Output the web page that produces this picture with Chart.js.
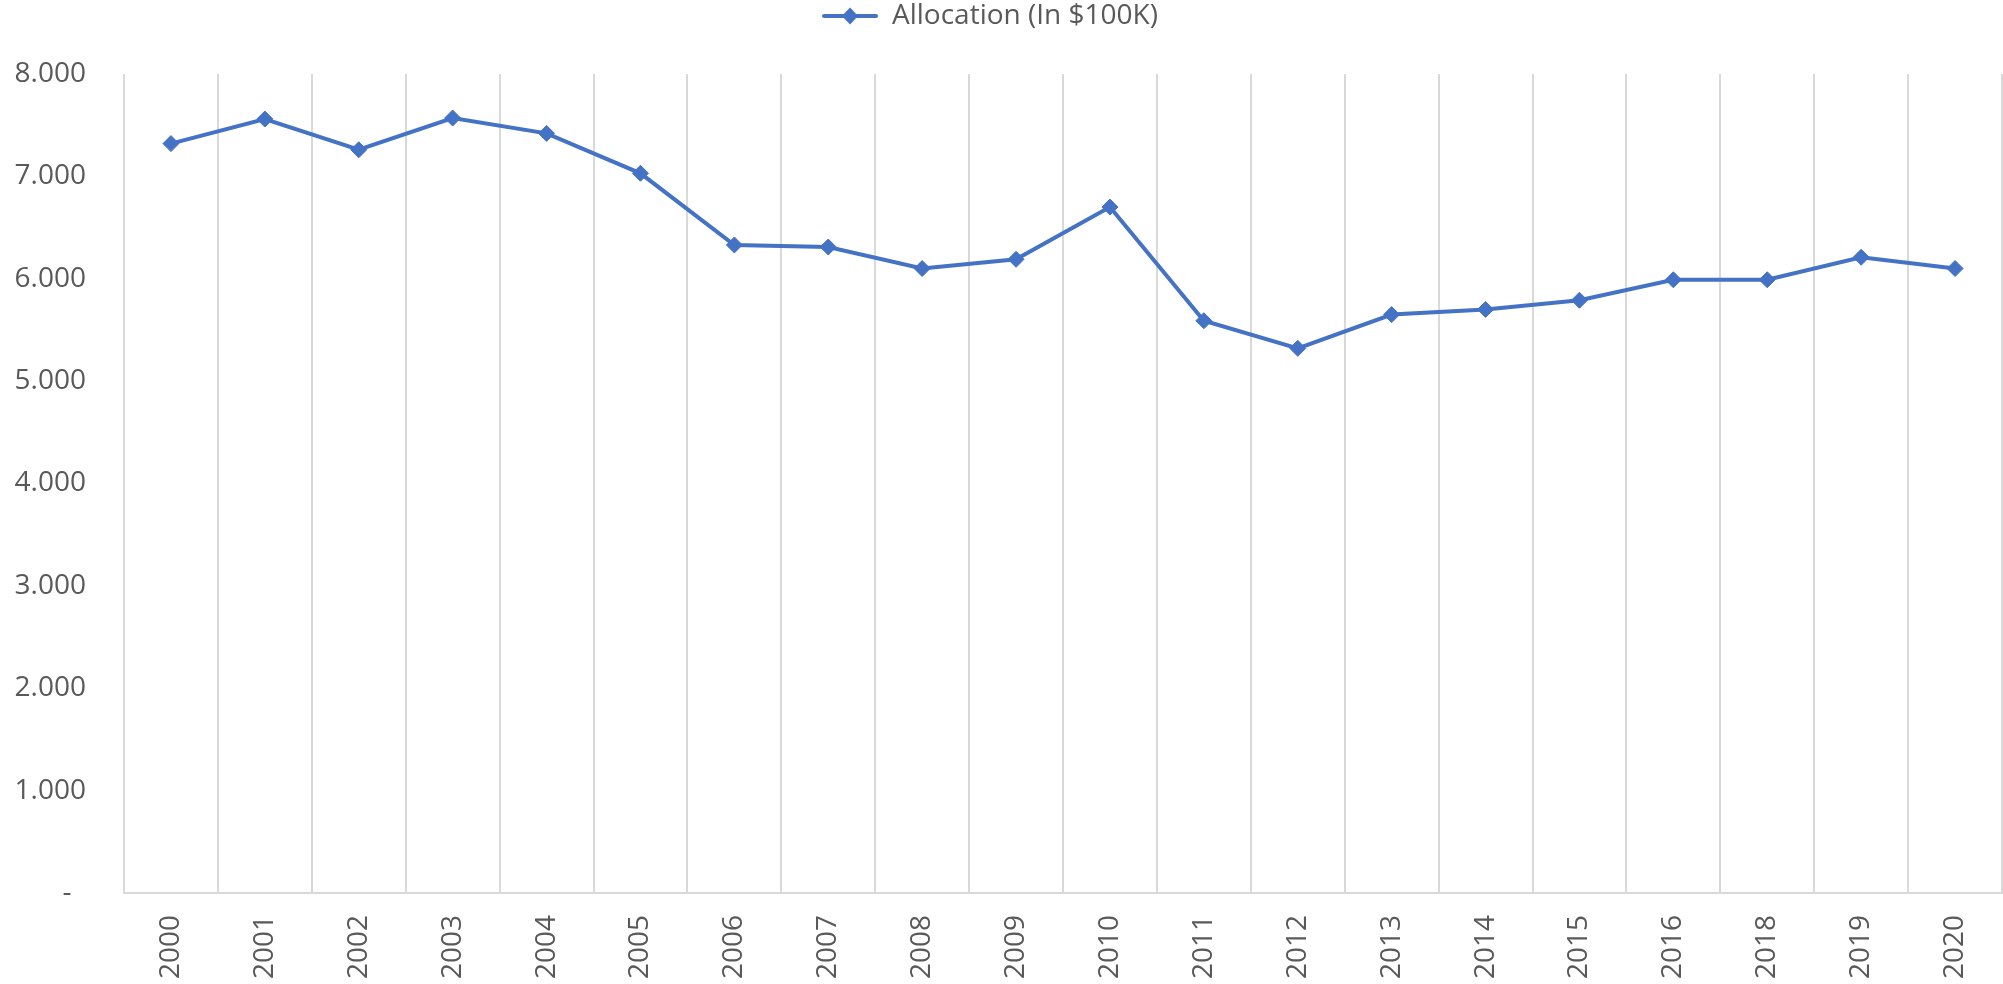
<!DOCTYPE html>
<html>
<head>
<meta charset="utf-8">
<script src="https://cdn.jsdelivr.net/npm/chart.js@4"></script>
<style>
html,body{margin:0;padding:0;background:#fff;overflow:hidden;}
#wrap{width:2003px;height:984px;position:relative;}
</style>
</head>
<body>
<div id="wrap"><canvas id="c"></canvas></div>
<script>
const categories = ['2000','2001','2002','2003','2004','2005','2006','2007','2008','2009','2010','2011','2012','2013','2014','2015','2016','2018','2019','2020'];
const allocation = [7.32,7.56,7.26,7.57,7.42,7.03,6.33,6.31,6.10,6.19,6.70,5.59,5.32,5.65,5.70,5.79,5.99,5.99,6.21,6.10];
const seriesName = 'Allocation (In $100K)';
const yTicks = [0,1,2,3,4,5,6,7,8];

const BLUE = '#4472C4';
const TEXT = '#595959';
const GRID = '#d9d9d9';
const FONT = "'Open Sans', sans-serif";

// legend symbol: line with diamond
const sym = document.createElement('canvas');
sym.width = 56; sym.height = 18;
(function(){
  const g = sym.getContext('2d');
  g.strokeStyle = BLUE; g.lineWidth = 4; g.lineCap = 'round';
  g.beginPath(); g.moveTo(2, 9); g.lineTo(54, 9); g.stroke();
  g.fillStyle = BLUE;
  g.beginPath(); g.moveTo(28, 0.5); g.lineTo(36, 9); g.lineTo(28, 17.5); g.lineTo(20, 9); g.closePath(); g.fill();
})();

const legendTweak = {
  id: 'legendTweak',
  beforeInit(chart) {
    const lg = chart.legend;
    const origFit = lg.fit;
    lg.fit = function() { origFit.call(this); this.height = 74; };
    const origDraw = lg.draw;
    lg.draw = function() {
      const ctx = this.ctx;
      ctx.save(); ctx.translate(-11, 0);
      origDraw.apply(this, arguments);
      ctx.restore();
    };
  }
};

new Chart(document.getElementById('c'), {
  type: 'line',
  data: {
    labels: categories,
    datasets: [{
      label: seriesName,
      data: allocation,
      borderColor: BLUE,
      backgroundColor: BLUE,
      borderWidth: 4,
      pointStyle: 'rectRot',
      pointRadius: 8,
      pointBorderWidth: 1,
      pointBackgroundColor: BLUE,
      pointBorderColor: BLUE,
      tension: 0,
      fill: false
    }]
  },
  options: {
    responsive: true,
    maintainAspectRatio: false,
    animation: false,
    devicePixelRatio: 1,
    layout: { autoPadding: false, padding: { left: 0, right: 1, top: 0, bottom: 0 } },
    plugins: {
      legend: {
        position: 'top',
        labels: {
          usePointStyle: true,
          pointStyle: sym,
          pointStyleWidth: 56,
          padding: 2,
          color: TEXT,
          font: { family: FONT, size: 28 }
        }
      },
      tooltip: { enabled: false }
    },
    scales: {
      x: {
        offset: true,
        grid: { display: true, offset: true, color: GRID, lineWidth: 2, drawTicks: false },
        border: { display: true, color: GRID, width: 2 },
        ticks: {
          color: TEXT,
          font: { family: FONT, size: 28 },
          minRotation: 90, maxRotation: 90,
          padding: 22,
          autoSkip: false
        },
        afterFit(scale) { scale.height = 91; scale.paddingLeft = 0; scale.paddingRight = 0; }
      },
      y: {
        min: 0, max: 8,
        grid: { display: false, drawTicks: false },
        border: { display: false },
        afterBuildTicks(scale) { scale.ticks = yTicks.map(v => ({ value: v })); },
        ticks: {
          color: TEXT,
          font: { family: FONT, size: 28 },
          padding: 38,
          callback: (v) => v === 0 ? '-  ' : v.toFixed(3)
        },
        afterFit(scale) { scale.width = 124; }
      }
    }
  },
  plugins: [legendTweak]
});
</script>
</body>
</html>
